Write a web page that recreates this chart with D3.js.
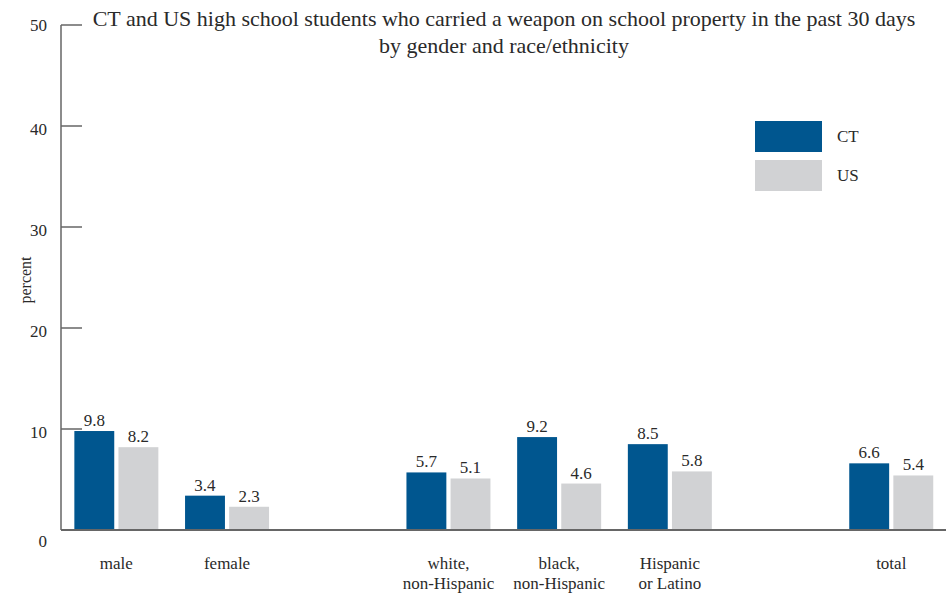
<!DOCTYPE html>
<html><head><meta charset="utf-8">
<script src="https://cdn.jsdelivr.net/npm/d3@7"></script>
<style>
body{margin:0;background:#fff;}
</style></head>
<body><svg id="c" width="952" height="596"></svg>
<script>
const slots = ["male","female","gap1","white","black","hispanic","gap2","total"];
const categories = ["male","female","white","black","hispanic","total"];
const categoryLabels = [["male"],["female"],["white,","non-Hispanic"],["black,","non-Hispanic"],["Hispanic","or Latino"],["total"]];
const seriesNames = ["CT","US"];
const ctValues = [9.8,3.4,5.7,9.2,8.5,6.6];
const usValues = [8.2,2.3,5.1,4.6,5.8,5.4];
const yTicks = [0,10,20,30,40,50];
const titleLines = ["CT and US high school students who carried a weapon on school property in the past 30 days","by gender and race/ethnicity"];
const colors = {CT:"#00568f", US:"#d1d2d4"};
const FONT = "'Liberation Serif'";

const svg = d3.select("#c").attr("font-family", FONT);
const y = d3.scaleLinear().domain([0,50]).range([530,25]);
const x = d3.scaleBand().domain(slots).range([61,946.6]).padding(0);
const xs = d3.scaleBand().domain(seriesNames).range([0,84]).paddingInner(0.0952);
const txt = sel => sel.attr("font-family", FONT).attr("fill","#2a2a2a");

// title
txt(svg.append("text")).attr("x",504).attr("y",26).attr("text-anchor","middle")
  .attr("font-size",22).text(titleLines[0]);
txt(svg.append("text")).attr("x",504).attr("y",53).attr("text-anchor","middle")
  .attr("font-size",22).text(titleLines[1]);

// y axis
svg.append("line").attr("x1",61).attr("x2",61).attr("y1",y(50)).attr("y2",y(0))
  .attr("stroke","#666").attr("stroke-width",1.5);
svg.selectAll(".tk").data(yTicks).enter().append("line")
  .attr("x1",61).attr("x2",82).attr("y1",d=>y(d)).attr("y2",d=>y(d))
  .attr("stroke","#666").attr("stroke-width",1.5);
txt(svg.selectAll(".tl").data(yTicks).enter().append("text"))
  .attr("x",47).attr("y",d=>y(d)+(d===0?17:(d===50?6:9)))
  .attr("text-anchor","end").attr("font-size",17).text(d=>d);
txt(svg.append("text")).attr("transform","translate(31,280) rotate(-90)")
  .attr("text-anchor","middle").attr("font-size",16).text("percent");

// bars
const data = categories.map((c,i)=>({c, vals:[{s:"CT",v:ctValues[i]},{s:"US",v:usValues[i]}], label:categoryLabels[i]}));
const g = svg.selectAll(".grp").data(data).enter().append("g")
  .attr("transform",d=>`translate(${x(d.c)+x.bandwidth()/2-42},0)`);
g.selectAll("rect").data(d=>d.vals).enter().append("rect")
  .attr("x",d=>xs(d.s)).attr("width",xs.bandwidth())
  .attr("y",d=>y(d.v)).attr("height",d=>y(0)-y(d.v))
  .attr("fill",d=>colors[d.s]);
txt(g.selectAll(".vl").data(d=>d.vals).enter().append("text"))
  .attr("x",d=>xs(d.s)+xs.bandwidth()/2).attr("y",d=>y(d.v)-5)
  .attr("text-anchor","middle").attr("font-size",17).text(d=>d.v.toFixed(1));

svg.append("line").attr("x1",61).attr("x2",946).attr("y1",y(0)).attr("y2",y(0))
  .attr("stroke","#666").attr("stroke-width",2);

const cl = txt(svg.selectAll(".cl").data(data).enter().append("text"))
  .attr("text-anchor","middle").attr("font-size",17);
cl.selectAll("tspan").data(d=>d.label.map(t=>({t,cx:x(d.c)+x.bandwidth()/2}))).enter().append("tspan")
  .attr("x",d=>d.cx).attr("y",(d,i)=>569+i*20).text(d=>d.t);

seriesNames.forEach((s,i)=>{
  svg.append("rect").attr("x",755).attr("y",121+i*39).attr("width",67).attr("height",31).attr("fill",colors[s]);
  txt(svg.append("text")).attr("x",837).attr("y",142+i*39).attr("font-size",17).text(s);
});
</script></body></html>
